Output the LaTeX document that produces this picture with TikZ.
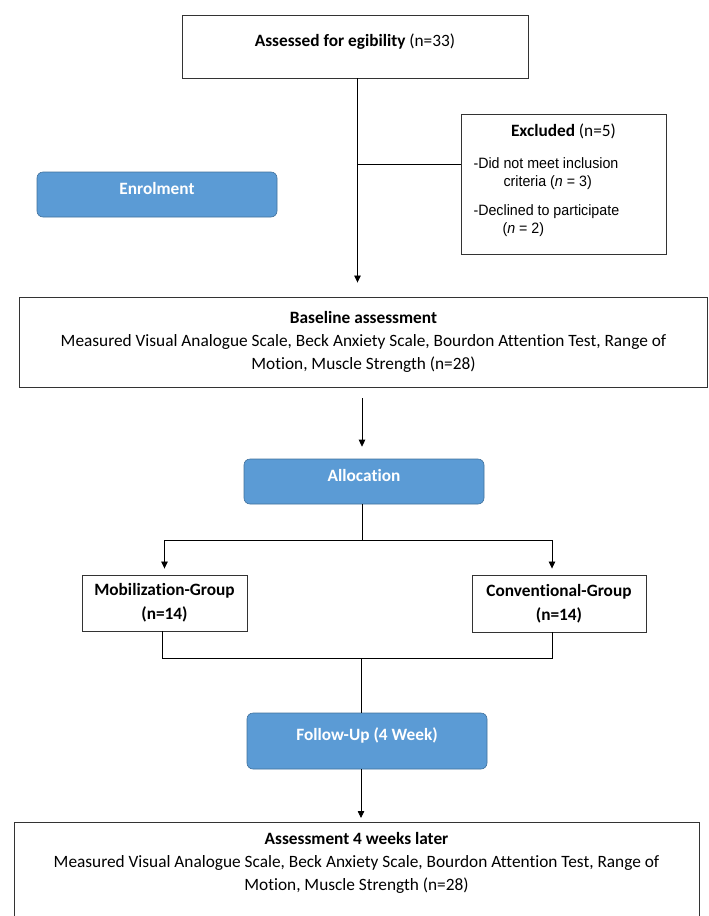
\documentclass[tikz,border=0pt]{standalone}
\usepackage{fontspec}
\setmainfont[Ligatures=NoCommon]{Carlito}
\newfontfamily\arialfont[FakeStretch=0.95]{Liberation Sans}
\usetikzlibrary{arrows.meta, positioning, calc}
\definecolor{phaseblue}{HTML}{5B9BD5}
\definecolor{phaseedge}{HTML}{41719C}

\begin{document}
\begin{tikzpicture}[
    x=1pt, y=-1pt,
    font=\fontsize{17.3}{23}\selectfont,
    >={Triangle[length=7pt,width=6.5pt]},
    % Node styles - plain boxes and blue phase labels
    whitebox/.style={draw=black!80, line width=0.9pt, fill=white, align=center, inner sep=0pt},
    phasebox/.style={draw=phaseedge, line width=0.6pt, fill=phaseblue, rounded corners=6pt, text=white, font=\fontsize{17.3}{20}\selectfont\bfseries, minimum width=240pt, minimum height=45pt, inner sep=0pt, text height=11.5pt, text depth=12.5pt},
    groupbox/.style={whitebox, font=\fontsize{17.3}{24}\selectfont\bfseries},
    line/.style={line width=0.8pt, color=black},
    arrow/.style={->, line width=0.8pt, color=black}
]
\useasboundingbox (0,0) rectangle (709,916);

% ========== ENROLMENT ==========
\node[whitebox, minimum width=346pt, minimum height=63pt, text height=11.5pt, text depth=12.5pt] (assess) at (355,46.5) {\textbf{Assessed for egibility} (n=33)};

\node[whitebox, minimum width=205pt, minimum height=140pt] (excl) at (563.5,184) {\parbox[c][121pt][t]{180pt}{%
    {\centering\textbf{Excluded} (n=5)\par}%
    {\arialfont\fontsize{15}{18}\selectfont
    \vspace{14.5pt}%
    -Did not meet inclusion\par
    \hspace*{30pt}criteria (\textit{n} = 3)\par
    \vspace{11pt}%
    -Declined to participate\par
    \hspace*{29pt}(\textit{n} = 2)\par}}};

\node[phasebox] (enrol) at (157,194.5) {Enrolment};

\node[whitebox, minimum width=688pt, minimum height=90pt] (base) at (363.5,342) {\textbf{Baseline assessment}\\Measured Visual Analogue Scale, Beck Anxiety Scale, Bourdon Attention Test, Range of\\Motion, Muscle Strength (n=28)};

% ========== ALLOCATION ==========
\node[phasebox] (alloc) at (364,481.5) {Allocation};

\node[groupbox, minimum width=165pt, minimum height=56pt] (mob) at (164.5,603) {Mobilization-Group\\(n=14)};
\node[groupbox, minimum width=174pt, minimum height=57pt] (conv) at (559,603.5) {Conventional-Group\\(n=14)};

% ========== FOLLOW-UP ==========
\node[phasebox, minimum height=56pt, text depth=13.5pt] (follow) at (367,741) {Follow-Up (4 Week)};

\node[whitebox, anchor=north, minimum width=685pt, inner ysep=10pt, text depth=60pt] (final) at (356.5,822) {\textbf{Assessment 4 weeks later}\\Measured Visual Analogue Scale, Beck Anxiety Scale, Bourdon Attention Test, Range of\\Motion, Muscle Strength (n=28)};

% ========== CONNECTORS ==========
\coordinate (brk) at (358,164);
\coordinate (split) at (362,540);
\coordinate (join) at (361,658);

\draw[arrow, shorten >=14pt] ([xshift=2.5pt]assess.south) -- ([xshift=2.5pt]assess.south |- base.north);
\draw[line] (brk) -- (brk -| excl.west);

\draw[arrow, shorten <=11pt, shorten >=12pt] ([xshift=-1.5pt]base.south) -- ([xshift=-2pt]alloc.north);
\draw[line] ([xshift=-2pt]alloc.south) -- (split);
\draw[arrow, shorten >=6pt] (split) -| (mob.north);
\draw[arrow, shorten >=6pt] (split) -| ([xshift=-7pt]conv.north);

\draw[line] ([xshift=-2.5pt]mob.south) |- (join);
\draw[line] ([xshift=-7pt]conv.south) |- (join);
\draw[line] (join) -- (join |- follow.north);
\draw[arrow, shorten >=4pt] (join |- follow.south) -- (join |- final.north);

\end{tikzpicture}
\end{document}
